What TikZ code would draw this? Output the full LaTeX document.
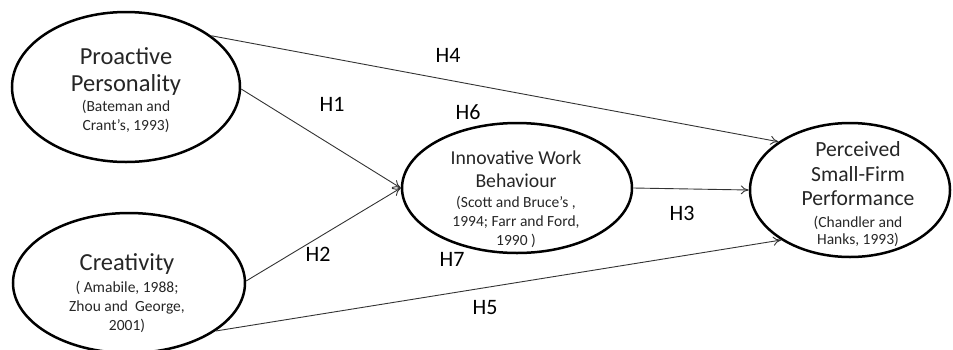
\documentclass[tikz,border=0pt]{standalone}
\usepackage{fontspec}
\setmainfont{Carlito}
\usetikzlibrary{shapes.geometric,arrows.meta}
\tikzset{>={To[length=8pt,width=9pt]}}
\colorlet{penColor}{black}
\colorlet{penColor2}{black!80}
\newcommand{\titlesize}{\fontsize{24.5}{27}\selectfont}
\newcommand{\citesize}{\fontsize{15.5}{19}\selectfont}

\begin{document}
\begin{tikzpicture}[x=1pt,y=-1pt,
    factor/.style={draw=penColor,ellipse,line width=2.5pt,inner sep=0pt},
    ftext/.style={align=center,inner sep=0pt,text=black!85,font=\citesize},
    hyp/.style={->,penColor2,line width=0.9pt},
    hlabel/.style={inner sep=0pt,font=\fontsize{22}{24}\selectfont}]
  \useasboundingbox (0,0) rectangle (953,349);
  % the four constructs
  \node[factor,minimum width=228,minimum height=150] (pp) at (126,87) {};
  \node[factor,minimum width=232,minimum height=140] (cr) at (129,283) {};
  \node[factor,minimum width=230,minimum height=130] (iwb) at (517,188) {};
  \node[factor,minimum width=200,minimum height=134] (psfp) at (850,190) {};
  \node[ftext] (pp-txt) at (126,90) {\titlesize Proactive\\[8pt]\titlesize Personality\\[1.5pt]
    (Bateman and\\Crant’s, 1993)};
  \node[ftext] (cr-txt) at (127,293) {\titlesize Creativity\\[3pt]
    ( Amabile, 1988;\\Zhou and\ \ George,\\2001)};
  \node[ftext] (iwb-txt) at (516,199) {\fontsize{19.7}{23}\selectfont Innovative Work\\[4pt]
    \fontsize{19.7}{23}\selectfont Behaviour\\[1pt]
    (Scott and Bruce’s ,\\1994; Farr and Ford,\\1990 )};
  \node[ftext] (psfp-txt) at (858,194) {\fontsize{21.6}{25}\selectfont Perceived\\[6pt]
    \fontsize{21.6}{25}\selectfont Small-Firm\\[5pt]\fontsize{21.6}{25}\selectfont Performance\\[3pt]
    (Chandler and\\[-1.5pt]Hanks, 1993)};
  % hypotheses
  \draw[hyp] (pp.31) -- (psfp.146);
  \draw[hyp] (pp.-1) -- (iwb.west);
  \draw[hyp] (cr.1) -- (iwb.west);
  \draw[hyp] (iwb.east) -- (psfp.west);
  \draw[hyp] (cr.-29) -- (psfp.-144);
  \node[hlabel] (h4) at (448,55) {H4};
  \node[hlabel] (h1) at (332,104) {H1};
  \node[hlabel] (h6) at (468,112) {H6};
  \node[hlabel] (h2) at (318,254) {H2};
  \node[hlabel] (h7) at (452,259) {H7};
  \node[hlabel] (h3) at (682,213) {H3};
  \node[hlabel] (h5) at (485,308) {H5};
\end{tikzpicture}
\end{document}
